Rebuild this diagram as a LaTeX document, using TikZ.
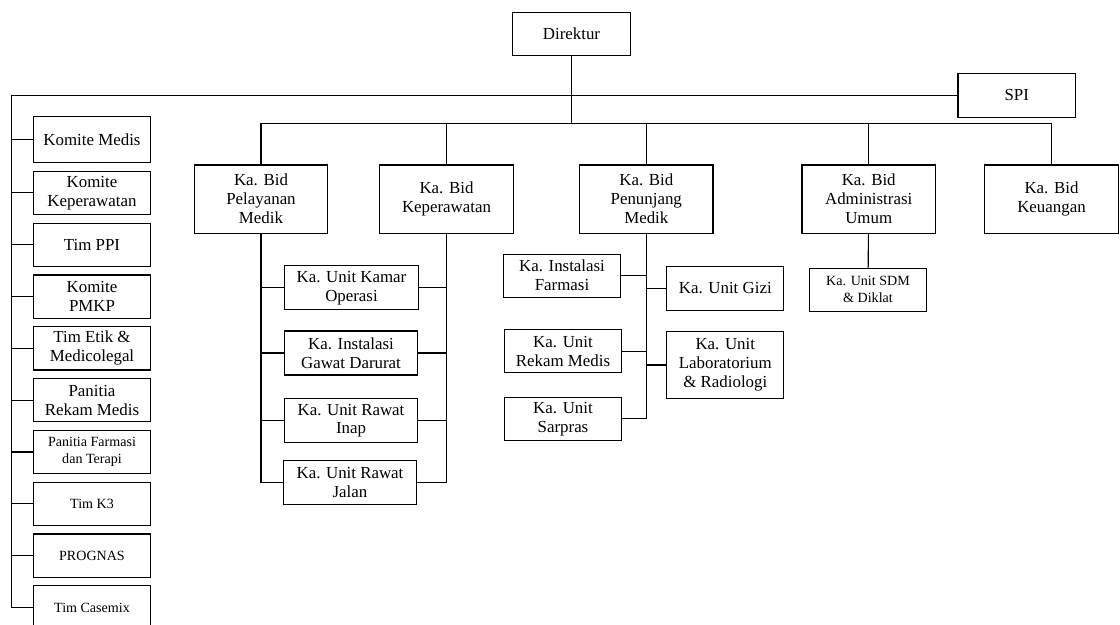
\documentclass[tikz,border=0pt]{standalone}
\usepackage{fontspec}
\setmainfont{Liberation Serif}
\usepackage{tikz}
\usetikzlibrary{positioning}

\begin{document}
\begin{tikzpicture}[
				x=0.025cm,y=-0.025cm,
				line width=0.8pt,
				node distance=0.215cm,
				pimpinan/.style={draw,rectangle,minimum width=2.94cm,minimum height=1.08cm,inner sep=0pt,outer sep=0pt,align=center,font=\fontsize{12}{13.5}\selectfont},
				bidang/.style={pimpinan,minimum width=3.335cm,minimum height=1.71cm},
				unit/.style={pimpinan,minimum width=3.335cm,minimum height=1.1cm},
				subunit/.style={pimpinan,minimum width=2.93cm},
				komite/.style={pimpinan,minimum width=2.935cm},
				kecil/.style={font=\fontsize{10}{12}\selectfont}
				]
				
				\useasboundingbox (0,0) rectangle (1120,625);
				\clip (0,0) rectangle (1120,625);
				
				\node[pimpinan] (direktur) at (571.5,33.7) {Direktur};
				\node[pimpinan,minimum height=1.1cm] (spi) at (1016.8,95.3) {SPI};
				
				\node[bidang] (pelayanan) at (261,199.2) {Ka. Bid\\Pelayanan\\Medik};
				\node[bidang] (keperawatan) at (446.5,199.2) {Ka. Bid\\Keperawatan};
				\node[bidang] (penunjang) at (646.3,199.2) {Ka. Bid\\Penunjang\\Medik};
				\node[bidang] (administrasi) at (868.7,199.2) {Ka. Bid\\Administrasi\\Umum};
				\node[bidang] (keuangan) at (1051.5,199.2) {Ka. Bid\\Keuangan};
				
				\node[unit] (kamar) at (351.5,287.8) {Ka. Unit Kamar\\Operasi};
				\node[unit] (igd) at (351,353) {Ka. Instalasi\\Gawat Darurat};
				\node[unit] (ranap) at (351,420.7) {Ka. Unit Rawat\\Inap};
				\node[unit] (rajal) at (350,482.2) {Ka. Unit Rawat\\Jalan};
				
				\node[subunit] (farmasi) at (562,275.7) {Ka. Instalasi\\Farmasi};
				\node[subunit] (rekammedis) at (563,351.3) {Ka. Unit\\Rekam Medis};
				\node[subunit,minimum height=1.06cm] (sarpras) at (563,418.9) {Ka. Unit\\Sarpras};
				\node[subunit,minimum height=1.12cm] (gizi) at (725.3,288.5) {Ka. Unit Gizi};
				\node[subunit,minimum height=1.67cm] (lab) at (725.3,365) {Ka. Unit\\Laboratorium\\\& Radiologi};
				
				\node[subunit,kecil] (sdm) at (868,289.7) {Ka. Unit SDM\\\& Diklat};
				
				\node[komite,minimum height=1.15cm] (komedis) at (92,139.7) {Komite Medis};
				\node[komite,below=of komedis] (kokep) {Komite\\Keperawatan};
				\node[komite,below=of kokep] (ppi) {Tim PPI};
				\node[komite,below=of ppi] (pmkp) {Komite\\PMKP};
				\node[komite,below=of pmkp] (etik) {Tim Etik \&\\Medicolegal};
				\node[komite,below=of etik] (panrm) {Panitia\\Rekam Medis};
				\node[komite,kecil,below=of panrm] (pft) {Panitia Farmasi\\dan Terapi};
				\node[komite,kecil,below=of pft] (k3) {Tim K3};
				\node[komite,kecil,below=of k3] (prognas) {PROGNAS};
				\node[komite,kecil,below=of prognas] (casemix) {Tim Casemix};
				
				\coordinate (spine) at (11.7,95.3);
				\coordinate (bus) at (571.5,123.3);
				
				% direktur ke bidang
				\draw (direktur) -- (bus);
				\draw (pelayanan) -- (pelayanan |- bus) -- (keuangan |- bus) -- (keuangan);
				\draw (keperawatan) -- (keperawatan |- bus);
				\draw (penunjang) -- (penunjang |- bus);
				\draw (administrasi) -- (administrasi |- bus);
				
				% spi dan komite
				\draw (spi) -- (spine) |- (casemix);
				\draw (komedis) -- (komedis -| spine);
				\draw (kokep) -- (kokep -| spine);
				\draw (ppi) -- (ppi -| spine);
				\draw (pmkp) -- (pmkp -| spine);
				\draw (etik) -- (etik -| spine);
				\draw (panrm) -- (panrm -| spine);
				\draw (pft) -- (pft -| spine);
				\draw (k3) -- (k3 -| spine);
				\draw (prognas) -- (prognas -| spine);
				
				% pelayanan medik dan keperawatan
				\draw (pelayanan) |- (rajal);
				\draw (keperawatan) |- (rajal);
				\draw (kamar) -- (kamar -| pelayanan) (kamar) -- (kamar -| keperawatan);
				\draw (igd) -- (igd -| pelayanan) (igd) -- (igd -| keperawatan);
				\draw (ranap) -- (ranap -| pelayanan) (ranap) -- (ranap -| keperawatan);
				
				% penunjang medik
				\draw (penunjang) |- (sarpras);
				\draw (farmasi) -- (farmasi -| penunjang);
				\draw (rekammedis) -- (rekammedis -| penunjang);
				\draw (gizi) -- (gizi -| penunjang);
				\draw (lab) -- (lab -| penunjang);
				
				\draw (administrasi) -- (sdm);
				
			\end{tikzpicture}
\end{document}
